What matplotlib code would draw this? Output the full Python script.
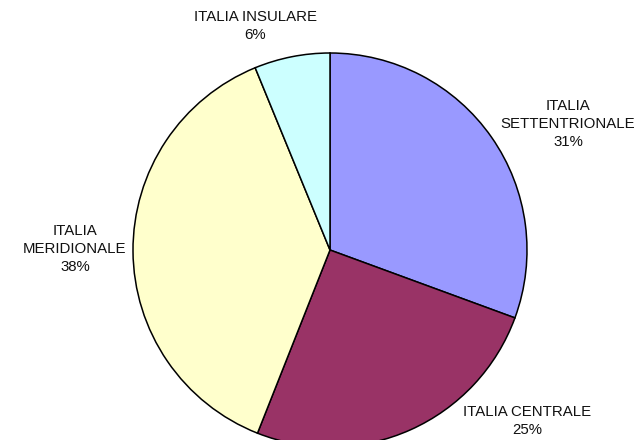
import matplotlib
matplotlib.use('Agg')
import matplotlib.pyplot as plt

# 데이터
regioni = ["ITALIA\nSETTENTRIONALE", "ITALIA CENTRALE", "ITALIA\nMERIDIONALE", "ITALIA INSULARE"]
quote = [30.6, 25.4, 37.8, 6.2]
colori = ["#9999FF", "#993366", "#FFFFCC", "#CCFFFF"]

# 레이블 위치 (픽셀, 위쪽 기준)
label_pos = [(568, 124), (527, 421), (75, 249), (255, 26)]

W, H = 635, 440
fig = plt.figure(figsize=(W / 100, H / 100), dpi=100)
ax = fig.add_axes([0, 0, 1, 1])

ax.pie(
    quote,
    colors=colori,
    startangle=90,
    counterclock=False,
    center=(330, H - 250),
    radius=197,
    wedgeprops=dict(edgecolor='black', linewidth=1.1),
    frame=True,
)
ax.set_xlim(0, W)
ax.set_ylim(0, H)
ax.set_aspect('equal')
ax.axis('off')

for nome, q, (x, y) in zip(regioni, quote, label_pos):
    ax.text(x, H - y, f"{nome}\n{q:.0f}%", ha='center', va='center',
            fontsize=10.8, family='Liberation Sans', linespacing=1.4,
            color='#111111')

fig.savefig("out.png", dpi=100)
